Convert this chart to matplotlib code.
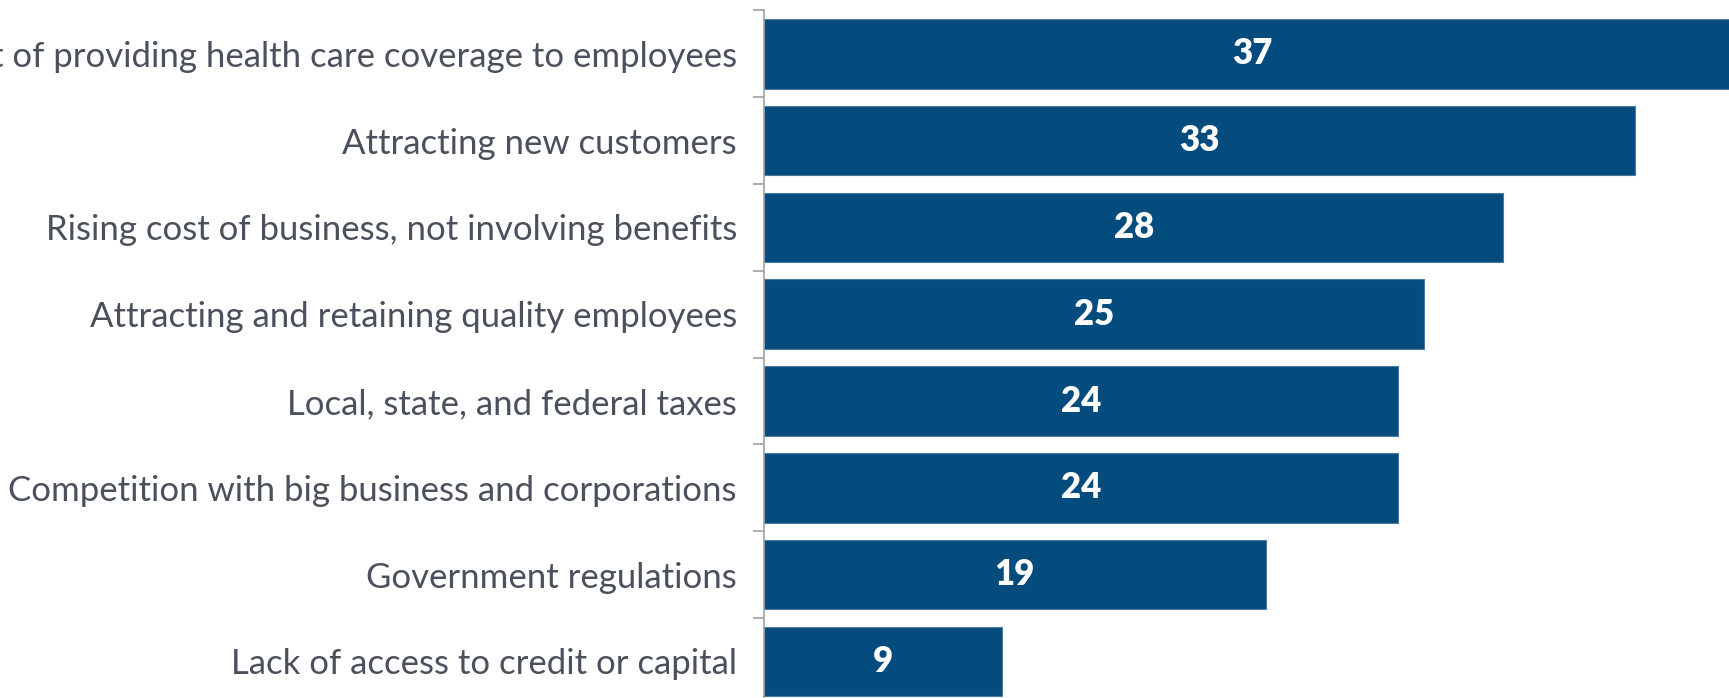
import matplotlib
matplotlib.use("Agg")
import matplotlib.pyplot as plt
import numpy as np

categories = [
    "Cost of providing health care coverage to employees",
    "Attracting new customers",
    "Rising cost of business, not involving benefits",
    "Attracting and retaining quality employees",
    "Local, state, and federal taxes",
    "Competition with big business and corporations",
    "Government regulations",
    "Lack of access to credit or capital",
]
values = [37, 33, 28, 25, 24, 24, 19, 9]

plt.rcParams['font.family'] = ['Lato', 'DejaVu Sans']

fig = plt.figure(figsize=(17.29, 6.98), dpi=100)
ax = fig.add_axes([764/1729, -6.8/698, 977/1729, 694.4/698])

y = np.arange(len(categories))
bar_color = "#054C7E"
ax.barh(y, values, height=0.8, color=bar_color, edgecolor="#4a7aa0", linewidth=0.8)

for yi, v in zip(y, values):
    ax.text(v / 2, yi, str(v), ha="center", va="center", color="white",
            fontsize=25, fontweight="heavy")

ax.set_ylim(len(categories) - 0.5, -0.5)
ax.set_xlim(0, 37)
ax.set_yticks(y)
ax.set_yticklabels(categories, fontsize=25, color="#4A505C")
ax.tick_params(axis="y", which="major", length=0, pad=19.5)
ax.set_yticks(np.arange(-0.5, len(categories) + 0.5, 1), minor=True)
ax.tick_params(axis="y", which="minor", length=8, color="#A0A0A0", width=1.2)
ax.set_xticks([])
for s in ["top", "right", "bottom"]:
    ax.spines[s].set_visible(False)
ax.spines["left"].set_color("#A0A0A0")
ax.spines["left"].set_linewidth(1.2)

fig.savefig("out.png", dpi=100)
